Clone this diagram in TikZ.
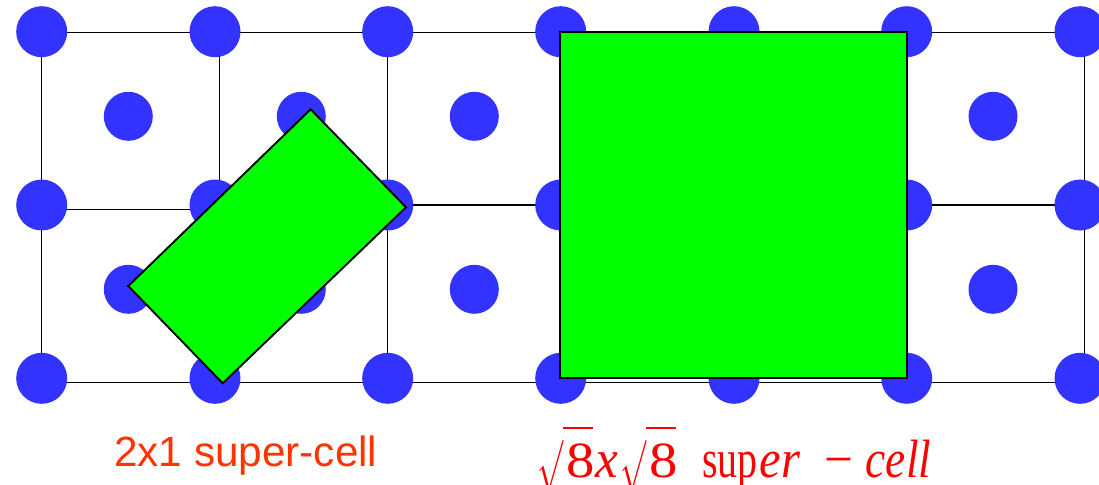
\documentclass[tikz,border=0pt]{standalone}
\usepackage{fontspec}
\newfontfamily\arialf{Liberation Sans}
\newfontfamily\tnrf{Liberation Serif}
\definecolor{dotblue}{HTML}{3333FF}
\definecolor{cellgreen}{HTML}{00FF00}
\definecolor{lblorange}{HTML}{FF3300}
\definecolor{lblred}{HTML}{FF0000}
\newcommand{\squeezed}[2]{\scalebox{#1}[1]{#2}}
% radical: surd 19.5pt wide, 39.5pt tall, bar 22.5pt long, then the digit
\newcommand{\rootpart}{%
  \makebox[0pt][l]{\raisebox{-2.25pt}{\resizebox*{19.5pt}{39.5pt}{$\surd$}}}\hspace{19.3pt}%
  \makebox[0pt][l]{\rule[36pt]{22.7pt}{1.25pt}}\hspace{2.8pt}%
  \makebox[0pt][l]{\squeezed{1.12}{\fontsize{38}{40}\selectfont 8}}}
\tikzset{
  gridline/.style={line width=1pt, black},
  cornerdot/.style={fill=dotblue},
  cellbox/.style={fill=cellgreen, draw=black, line width=1.4pt, line join=miter},
}
\begin{document}
\begin{tikzpicture}[x=0.75pt,y=-0.75pt]
\useasboundingbox (0,0) rectangle (1099,485);
% grid lines
\draw[gridline] (41.7,32.3) -- (1084.3,32.3);
\draw[gridline] (41.7,382.7) -- (1084.3,382.7);
\draw[gridline] (41.7,209.3) -- (387.7,209.3);
\draw[gridline] (387.7,205) -- (1084.3,205);
\draw[gridline] (41.7,32.3) -- (41.7,382.7);
\draw[gridline] (219.3,32.3) -- (219.3,382.7);
\draw[gridline] (387.7,32.3) -- (387.7,382.7);
\draw[gridline] (560.7,32.3) -- (560.7,382.7);
\draw[gridline] (734,32.3) -- (734,382.7);
\draw[gridline] (906.7,32.3) -- (906.7,382.7);
\draw[gridline] (1084.3,32.3) -- (1084.3,382.7);
% corner atoms
\foreach \x in {41.7,215,387.7,560.7,734,906.7,1080}
  \foreach \y in {31.7,205,378.3}
    \fill[cornerdot] (\x,\y) circle[radius=25.5];
% centre atoms
\foreach \x in {128.3,301.3,474.3,647.3,820.3,993}
  \foreach \y in {116.3,289.3}
    \fill[cornerdot] (\x,\y) circle[radius=24.5];
% super-cells
\draw[cellbox] (310.7,109.3) -- (406,207.3) -- (222.7,383.3) -- (128.3,286) -- cycle;
\draw[cellbox] (560.3,32.3) rectangle (907.3,378.3);
% labels
\node[anchor=base west, inner sep=0pt, text=lblorange, font=\arialf\fontsize{31.7}{36}\selectfont] (lbltwo) at (114,466.5) {2x1 super-cell};
\node[anchor=base west, inner sep=0pt, text=lblred, font=\tnrf\fontsize{40.5}{44}\selectfont] (lblroot) at (537,477)
  {\makebox[0pt][l]{\rootpart}\hspace{43.5pt}%
   \makebox[0pt][l]{\squeezed{0.95}{\textit{x}}}\hspace{18.75pt}%
   \makebox[0pt][l]{\rootpart}\hspace{61.3pt}%
   \makebox[0pt][l]{\squeezed{0.74}{sup}}\hspace{43.2pt}%
   \makebox[0pt][l]{\squeezed{0.9}{\textit{er}}}\hspace{48.6pt}%
   \makebox[0pt][l]{\squeezed{0.95}{−}}\hspace{31pt}%
   \squeezed{0.84}{\textit{cell}}};
\end{tikzpicture}
\end{document}
